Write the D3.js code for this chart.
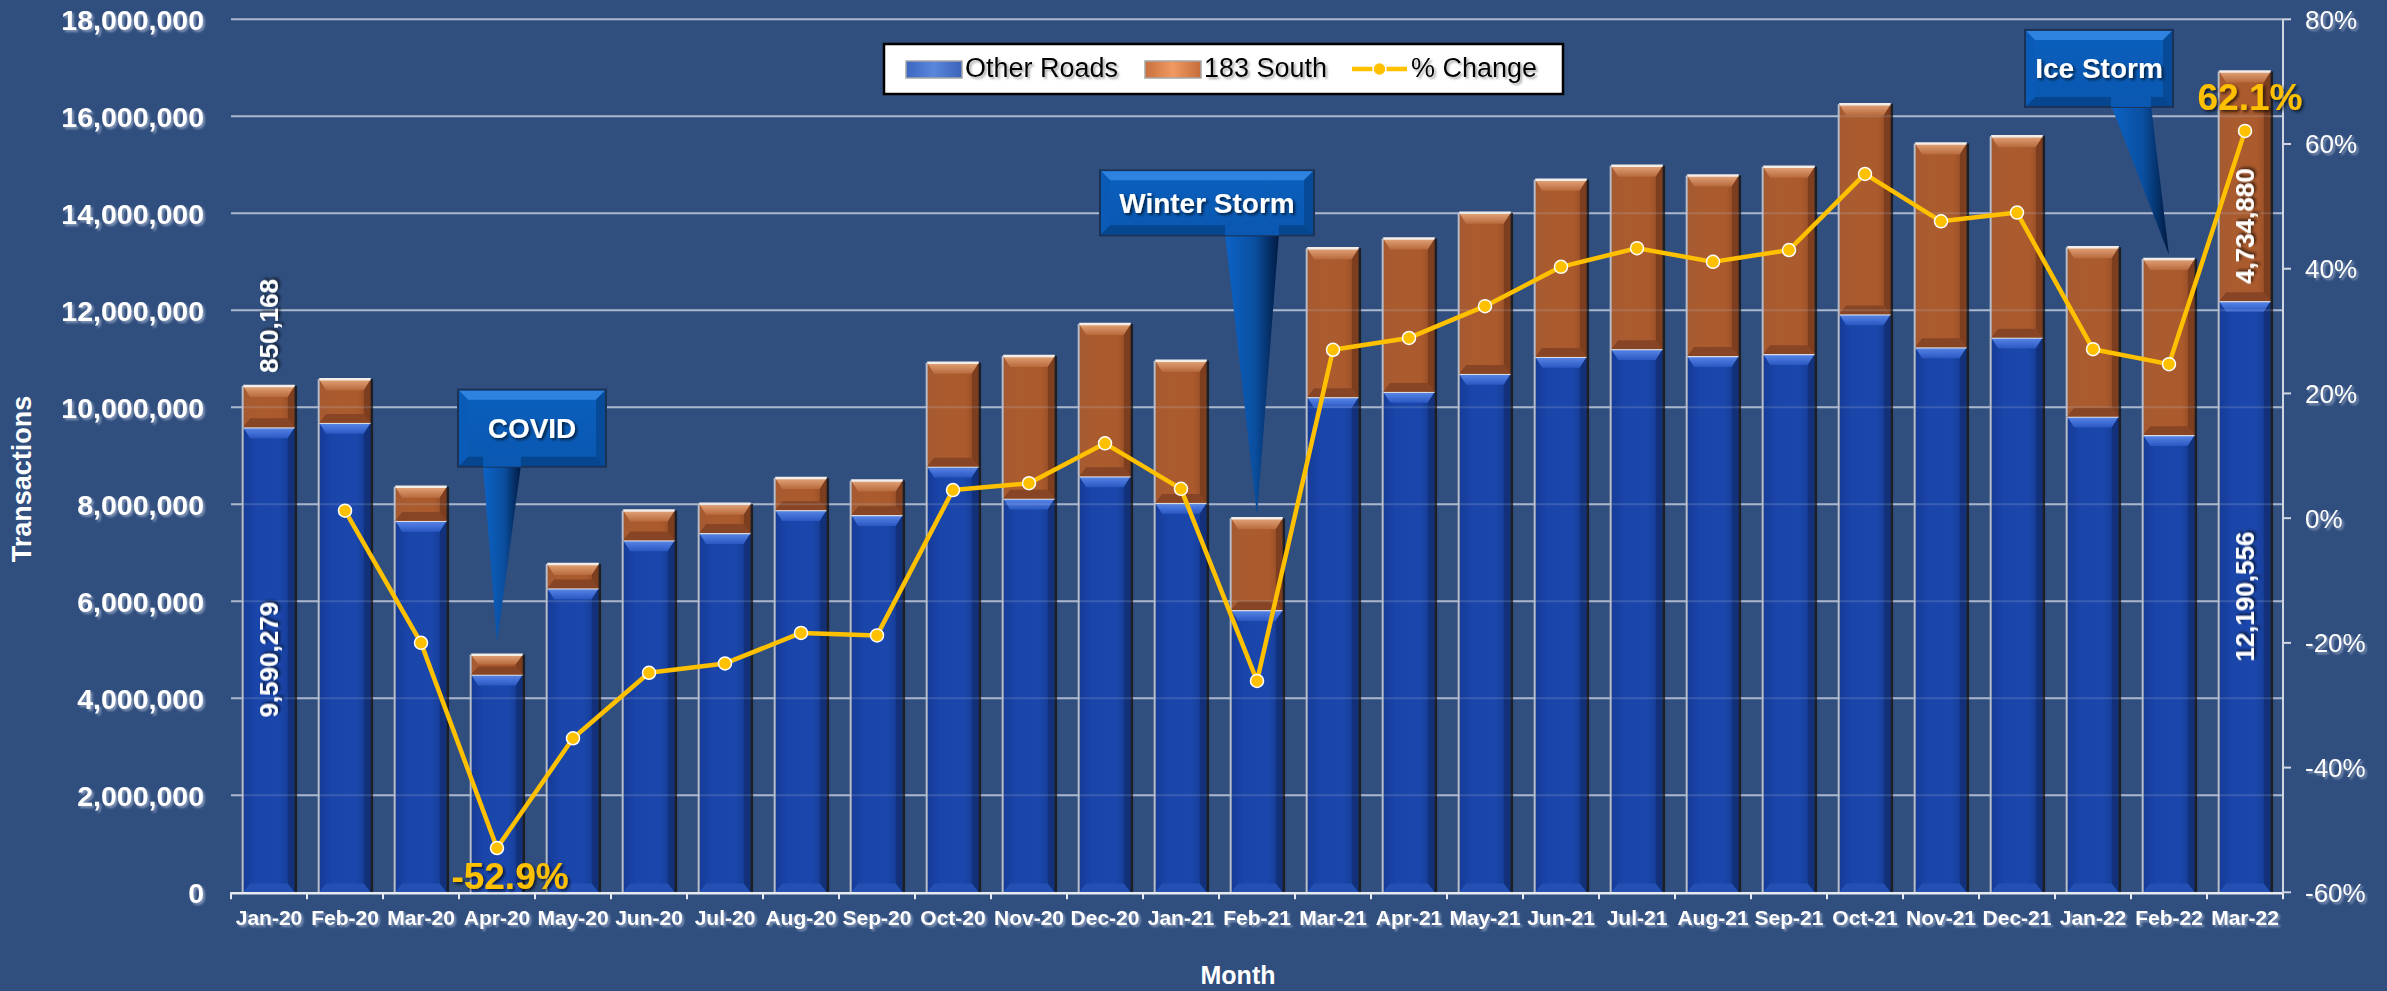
<!DOCTYPE html>
<html>
<head>
<meta charset="utf-8">
<script src="https://cdn.jsdelivr.net/npm/d3@7"></script>
<style>
  html, body { margin: 0; padding: 0; background: #304e7e; overflow: hidden; }
  text { font-family: "Liberation Sans", Arial, sans-serif; }
</style>
</head>
<body>
<div id="chart"></div>
<script>
// Monthly toll transactions, stacked, with % change line

const months = ['Jan-20', 'Feb-20', 'Mar-20', 'Apr-20', 'May-20', 'Jun-20', 'Jul-20', 'Aug-20', 'Sep-20',
  'Oct-20', 'Nov-20', 'Dec-20', 'Jan-21', 'Feb-21', 'Mar-21', 'Apr-21', 'May-21', 'Jun-21', 'Jul-21',
  'Aug-21', 'Sep-21', 'Oct-21', 'Nov-21', 'Dec-21', 'Jan-22', 'Feb-22', 'Mar-22']

const otherRoads = [9590279, 9680000, 7660000, 4490000, 6270000, 7260000, 7410000, 7880000, 7780000,
  8780000, 8120000, 8580000, 8030000, 5820000, 10210000, 10320000, 10690000, 11040000, 11200000,
  11060000, 11100000, 11920000, 11240000, 11440000, 9810000, 9430000, 12190556]

const south183 = [850168, 900000, 700000, 410000, 500000, 610000, 600000, 660000, 710000,
  2140000, 2940000, 3140000, 2930000, 1890000, 3070000, 3160000, 3320000, 3650000, 3780000,
  3720000, 3860000, 4330000, 4200000, 4150000, 3490000, 3630000, 4734880]

const pctChange = [null, 1.2, -20.0, -52.9, -35.3, -24.8, -23.3, -18.4, -18.8,
  4.5, 5.6, 12.0, 4.7, -26.1, 27.0, 28.9, 34.0, 40.3, 43.3,
  41.1, 43.0, 55.2, 47.6, 49.0, 27.1, 24.7, 62.1]

const leftTicks = d3.range(0, 18000001, 2000000)
const rightTicks = [-60, -40, -20, 0, 20, 40, 60, 80]

const callouts = [
  {label: 'COVID', month: 'Apr-20'},
  {label: 'Winter Storm', month: 'Feb-21'},
  {label: 'Ice Storm', month: 'Feb-22'}
]

// labelled points
const pctLabels = ['Apr-20', 'Mar-22']
const valueLabels = [
  {month: 'Jan-20', series: 'south', where: 'above'},
  {month: 'Jan-20', series: 'other', where: 'inside'},
  {month: 'Mar-22', series: 'south', where: 'inside'},
  {month: 'Mar-22', series: 'other', where: 'inside'}
]

// layout
const W = 2387, H = 991
const plot = {left: 231, right: 2283, top: 19.3, bottom: 892.3}
const calloutLayout = {
  'COVID':        {w: 148, h: 77, dx: 35,  rise: 176, gap: 12, baseDx: 5,   baseW: 38},
  'Winter Storm': {w: 214, h: 65, dx: -50, rise: 280, gap: 3,  baseDx: -5,  baseW: 54},
  'Ice Storm':    {w: 148, h: 77, dx: -70, rise: 148, gap: 4,  baseDx: -38, baseW: 40}
}

const gold = '#FFC000'
const fmtPct = v => d3.format('.1f')(v).replace('\u2212', '-') + '%'

const svg = d3.select('#chart').append('svg')
  .attr('width', W).attr('height', H)
  .style('display', 'block')

svg.append('rect').attr('width', W).attr('height', H).attr('fill', '#304e7e')

const defs = svg.append('defs')
function shadow(id, color, op, dx, dy, sd) {
  defs.append('filter').attr('id', id).attr('x', '-20%').attr('y', '-20%').attr('width', '140%').attr('height', '140%')
    .append('feDropShadow').attr('dx', dx).attr('dy', dy).attr('stdDeviation', sd)
    .attr('flood-color', color).attr('flood-opacity', op)
}
shadow('shLight', '#b9c6dd', 0.6, 2, 2, 1.2)
shadow('shDark', '#000', 0.65, 2, 2, 1.5)
shadow('shLegend', '#666', 0.55, 2, 2, 1)

function hGrad(id, stops) {
  const g = defs.append('linearGradient').attr('id', id).attr('x1', 0).attr('x2', 1).attr('y1', 0).attr('y2', 0)
  stops.forEach(s => g.append('stop').attr('offset', s[0]).attr('stop-color', s[1]))
}
function vGrad(id, stops) {
  const g = defs.append('linearGradient').attr('id', id).attr('x1', 0).attr('x2', 0).attr('y1', 0).attr('y2', 1)
  stops.forEach(s => g.append('stop').attr('offset', s[0]).attr('stop-color', s[1]))
}
hGrad('blueFace', [[0, '#163b98'], [0.25, '#1a45a9'], [0.7, '#1b47ad'], [1, '#143889']])
hGrad('brownFace', [[0, '#a65a31'], [0.3, '#ab5c2f'], [0.75, '#aa5a2d'], [1, '#8f4924']])
vGrad('blueTop', [[0, '#5b88ea'], [1, '#2a58c2']])
vGrad('brownTop', [[0, '#e3a57a'], [1, '#b86a3d']])
hGrad('pointer', [[0, '#0c63c6'], [0.55, '#0a4fa0'], [1, '#021a42']])
vGrad('boxFace', [[0, '#0b60be'], [1, '#0957b0']])
hGrad('legBlue', [[0, '#3d67c0'], [0.5, '#5a86dc'], [1, '#3a62b8']])
hGrad('legBrown', [[0, '#c8703e'], [0.5, '#f09a62'], [1, '#c46c3a']])

// scales
const x = d3.scaleBand().domain(months).range([plot.left, plot.right]).paddingInner(0.32).paddingOuter(0.16)
const yL = d3.scaleLinear().domain([0, 18000000]).range([plot.bottom, plot.top])
const yR = d3.scaleLinear().domain([-60, 80]).range([plot.bottom, plot.top])
const cx = m => x(m) + x.bandwidth() / 2

// gridlines
const grid = svg.append('g')
grid.selectAll('line').data(leftTicks.slice(1)).enter().append('line')
  .attr('x1', plot.left).attr('x2', plot.right)
  .attr('y1', d => yL(d)).attr('y2', d => yL(d))
  .attr('stroke', '#a3b1c8').attr('stroke-width', 2)

// stacked bars
const series = months.map((m, i) => ({m, other: otherRoads[i], south: south183[i]}))
const bars = svg.append('g')

function poly(g, pts, fill) {
  g.append('polygon').attr('points', pts.map(p => p.join(',')).join(' ')).attr('fill', fill)
}
function bevelSeg(g, x0, y0, w, h, pal) {
  const b = Math.min(11, h / 2), s = Math.min(7, w / 4)
  g.append('rect').attr('x', x0).attr('y', y0).attr('width', w).attr('height', h).attr('fill', pal.face)
  poly(g, [[x0, y0], [x0 + w, y0], [x0 + w - s, y0 + b], [x0 + s, y0 + b]], pal.top)
  poly(g, [[x0, y0 + h], [x0 + s, y0 + h - b * 0.8], [x0 + w - s, y0 + h - b * 0.8], [x0 + w, y0 + h]], pal.bottom)
  poly(g, [[x0 + w, y0], [x0 + w - s, y0 + b], [x0 + w - s, y0 + h - b * 0.8], [x0 + w, y0 + h]], pal.right)
  // outline: light left/top, dark right
  g.append('line').attr('x1', x0).attr('x2', x0 + w).attr('y1', y0).attr('y2', y0)
    .attr('stroke', pal.rim).attr('stroke-width', 2.5)
  g.append('line').attr('x1', x0 - 0.5).attr('x2', x0 - 0.5).attr('y1', y0).attr('y2', y0 + h)
    .attr('stroke', '#b8bcc4').attr('stroke-width', 2)
  g.append('line').attr('x1', x0 + w + 1).attr('x2', x0 + w + 1).attr('y1', y0).attr('y2', y0 + h)
    .attr('stroke', '#1e1f24').attr('stroke-width', 2.5)
}
const bluePal = {face: 'url(#blueFace)', top: 'url(#blueTop)', bottom: '#2450b4', right: '#12317a', rim: '#d8dbe2'}
const brownPal = {face: 'url(#brownFace)', top: 'url(#brownTop)', bottom: '#874525', right: '#7c3e1f', rim: '#f2ede8'}

series.forEach(d => {
  const g = bars.append('g')
  const x0 = x(d.m), w = x.bandwidth()
  const yOther = yL(d.other), yTot = yL(d.other + d.south)
  bevelSeg(g, x0, yOther, w, plot.bottom - yOther, bluePal)
  bevelSeg(g, x0, yTot, w, yOther - yTot, brownPal)
})

// faint gridlines through bars
svg.append('g').selectAll('line').data(leftTicks.slice(1)).enter().append('line')
  .attr('x1', plot.left).attr('x2', plot.right)
  .attr('y1', d => yL(d)).attr('y2', d => yL(d))
  .attr('stroke', '#c4cfe0').attr('stroke-width', 2).attr('opacity', 0.18)

// x axis
const xAxis = svg.append('g')
xAxis.append('line').attr('x1', plot.left).attr('x2', plot.right)
  .attr('y1', plot.bottom + 1).attr('y2', plot.bottom + 1).attr('stroke', '#e6e9ef').attr('stroke-width', 2.5)
const bounds = months.map(m => x(m) - x.step() * x.paddingInner() / 2)
bounds.push(plot.right)
bounds[0] = plot.left
xAxis.selectAll('.tk').data(bounds).enter().append('line')
  .attr('x1', d => d).attr('x2', d => d).attr('y1', plot.bottom).attr('y2', plot.bottom + 7)
  .attr('stroke', '#e6e9ef').attr('stroke-width', 2)
xAxis.selectAll('text').data(months).enter().append('text')
  .attr('x', d => cx(d)).attr('y', 925)
  .attr('text-anchor', 'middle').attr('fill', '#fff')
  .attr('font-size', 21).attr('font-weight', 'bold')
  .attr('filter', 'url(#shLight)')
  .text(d => d)

// left axis labels
svg.append('g').selectAll('text').data(leftTicks).enter().append('text')
  .attr('x', 204).attr('y', d => yL(d)).attr('dy', '0.36em')
  .attr('text-anchor', 'end').attr('fill', '#fff')
  .attr('font-size', 28.5).attr('font-weight', 'bold')
  .attr('filter', 'url(#shLight)')
  .text(d => d3.format(',')(d))

// right axis
const rAxis = svg.append('g')
rAxis.append('line').attr('x1', plot.right).attr('x2', plot.right)
  .attr('y1', plot.top).attr('y2', plot.bottom + 1).attr('stroke', '#d0d6e2').attr('stroke-width', 2)
rAxis.selectAll('line.t').data(rightTicks).enter().append('line')
  .attr('x1', plot.right).attr('x2', plot.right + 8)
  .attr('y1', d => yR(d)).attr('y2', d => yR(d))
  .attr('stroke', '#d0d6e2').attr('stroke-width', 2)
rAxis.selectAll('text').data(rightTicks).enter().append('text')
  .attr('x', 2305).attr('y', d => yR(d)).attr('dy', '0.36em')
  .attr('fill', '#fff').attr('font-size', 26)
  .attr('filter', 'url(#shLight)')
  .text(d => d + '%')

// axis titles
svg.append('text').attr('transform', 'translate(31,479) rotate(-90)')
  .attr('text-anchor', 'middle').attr('fill', '#fff')
  .attr('font-size', 27).attr('font-weight', 'bold')
  .text('Transactions')
svg.append('text').attr('x', 1238).attr('y', 984)
  .attr('text-anchor', 'middle').attr('fill', '#fff')
  .attr('font-size', 25).attr('font-weight', 'bold')
  .text('Month')

// % change line
const pts = months.map((m, i) => ({m, v: pctChange[i]})).filter(d => d.v !== null)
const line = d3.line().x(d => cx(d.m)).y(d => yR(d.v))
svg.append('path').datum(pts).attr('d', line)
  .attr('fill', 'none').attr('stroke', gold).attr('stroke-width', 4.5).attr('stroke-linejoin', 'round')
svg.append('g').selectAll('circle').data(pts).enter().append('circle')
  .attr('cx', d => cx(d.m)).attr('cy', d => yR(d.v)).attr('r', 6.5)
  .attr('fill', gold).attr('stroke', '#fff').attr('stroke-width', 1.5)

// % labels
pctLabels.forEach(m => {
  const v = pctChange[months.indexOf(m)]
  const below = v < 0
  svg.append('text')
    .attr('x', cx(m) + (below ? 13 : 5))
    .attr('y', yR(v) + (below ? 41 : -21))
    .attr('text-anchor', 'middle').attr('fill', gold)
    .attr('font-size', 37).attr('font-weight', 'bold')
    .attr('filter', 'url(#shDark)')
    .text(fmtPct(v))
})

// value labels (rotated)
valueLabels.forEach(l => {
  const i = months.indexOf(l.month)
  const o = otherRoads[i], s = south183[i]
  const val = l.series === 'other' ? o : s
  let yPos, anchor = 'middle'
  if (l.where === 'above') {
    yPos = yL(o + s) - 13
    anchor = 'start'
  } else if (l.series === 'other') {
    yPos = (yL(o) + yL(0)) / 2
  } else {
    yPos = (yL(o) + yL(o + s)) / 2 + 40
  }
  svg.append('text')
    .attr('transform', `translate(${cx(l.month)},${yPos}) rotate(-90)`)
    .attr('dy', '0.36em')
    .attr('text-anchor', anchor).attr('fill', '#fff')
    .attr('font-size', 26).attr('font-weight', 'bold')
    .attr('filter', 'url(#shDark)')
    .text(d3.format(',')(val))
})

// callouts
callouts.forEach(c => {
  const L = calloutLayout[c.label]
  const i = months.indexOf(c.month)
  const tipX = cx(c.month)
  const tipY = yL(otherRoads[i] + south183[i]) - L.gap
  const bx = tipX + L.dx - L.w / 2
  const by = tipY - L.rise - L.h
  const g = svg.append('g')
  const baseC = tipX + L.baseDx
  poly(g, [[baseC - L.baseW / 2, by + L.h - 2], [baseC + L.baseW / 2, by + L.h - 2], [tipX, tipY]], 'url(#pointer)')
  g.append('rect').attr('x', bx).attr('y', by).attr('width', L.w).attr('height', L.h)
    .attr('fill', 'url(#boxFace)').attr('stroke', '#1b3257').attr('stroke-width', 2)
  const b = 9
  poly(g, [[bx + 1, by + 1], [bx + L.w - 1, by + 1], [bx + L.w - 1 - b, by + 1 + b], [bx + 1 + b, by + 1 + b]], '#2f83e0')
  poly(g, [[bx + 1, by + L.h - 1], [bx + 1 + b, by + L.h - 1 - b], [bx + L.w - 1 - b, by + L.h - 1 - b], [bx + L.w - 1, by + L.h - 1]], '#06468f')
  poly(g, [[bx + L.w - 1, by + 1], [bx + L.w - 1 - b, by + 1 + b], [bx + L.w - 1 - b, by + L.h - 1 - b], [bx + L.w - 1, by + L.h - 1]], '#074a98')
  poly(g, [[bx + 1, by + 1], [bx + 1 + b, by + 1 + b], [bx + 1 + b, by + L.h - 1 - b], [bx + 1, by + L.h - 1]], '#0a5ab8')
  // pointer neck over box bottom bevel
  poly(g, [[baseC - L.baseW / 2, by + L.h - 12], [baseC + L.baseW / 2, by + L.h - 12],
    [baseC + L.baseW / 2, by + L.h], [baseC - L.baseW / 2, by + L.h]], '#0a58b2')
  g.append('text').attr('x', bx + L.w / 2).attr('y', by + L.h / 2).attr('dy', '0.36em')
    .attr('text-anchor', 'middle').attr('fill', '#fff')
    .attr('font-size', 28).attr('font-weight', 'bold')
    .attr('filter', 'url(#shDark)')
    .text(c.label)
})

// legend
const leg = svg.append('g')
leg.append('rect').attr('x', 884).attr('y', 44).attr('width', 679).attr('height', 50)
  .attr('fill', '#fff').attr('stroke', '#000').attr('stroke-width', 2.5)
const legItems = [
  {name: 'Other Roads', kind: 'bar', fill: 'url(#legBlue)', x: 906},
  {name: '183 South', kind: 'bar', fill: 'url(#legBrown)', x: 1145},
  {name: '% Change', kind: 'line', x: 1352}
]
legItems.forEach(d => {
  if (d.kind === 'bar') {
    leg.append('rect').attr('x', d.x).attr('y', 61).attr('width', 56).attr('height', 17)
      .attr('fill', d.fill).attr('stroke', '#a6a6a6').attr('stroke-width', 1.5)
  } else {
    leg.append('line').attr('x1', d.x).attr('x2', d.x + 55).attr('y1', 69).attr('y2', 69)
      .attr('stroke', gold).attr('stroke-width', 4.5)
    leg.append('circle').attr('cx', d.x + 27.5).attr('cy', 69).attr('r', 6.5)
      .attr('fill', gold).attr('stroke', '#fff').attr('stroke-width', 1.5)
  }
  leg.append('text').attr('x', d.x + 59).attr('y', 77)
    .attr('fill', '#000').attr('font-size', 27)
    .attr('filter', 'url(#shLegend)')
    .text(d.name)
})
</script>
</body>
</html>
